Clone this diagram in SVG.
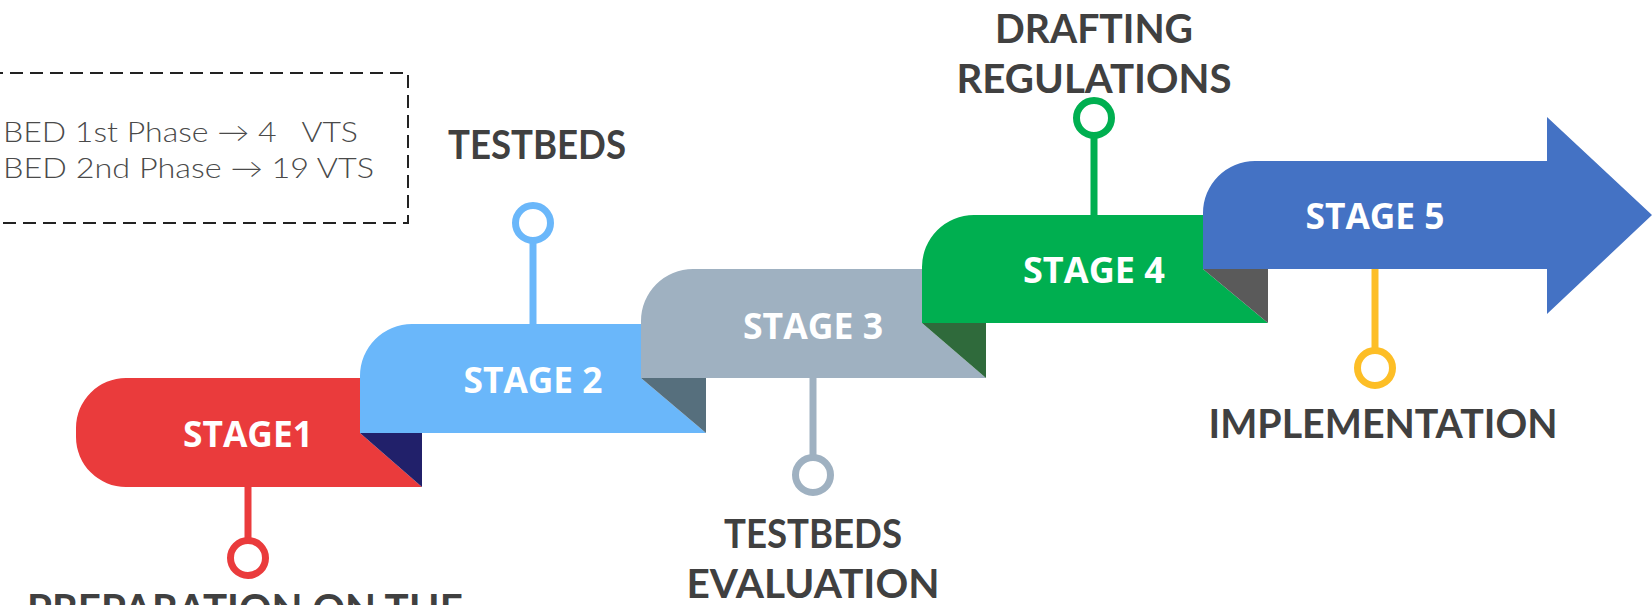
<svg xmlns="http://www.w3.org/2000/svg" width="1652" height="605" viewBox="0 0 1652 605">
  <style>
    .stage { font-family: "Open Sans", "Liberation Sans", sans-serif; font-weight: 700; font-size: 36px; fill: #ffffff; text-anchor: middle; }
    .label { font-family: "Lato", "Open Sans", "Liberation Sans", sans-serif; font-weight: 700; font-size: 41px; fill: #404040; text-anchor: middle; }
    .note { font-family: "Lato", "Liberation Sans", sans-serif; font-weight: 300; font-size: 27px; fill: #4a4a4a; }
    .stem { stroke-width: 7; fill: none; }
    .pin { stroke-width: 7; fill: #ffffff; }
  </style>

  <!-- dashed note box -->
  <g id="note">
    <rect x="-10" y="73" width="418" height="150" fill="none" stroke="#222222" stroke-width="2" stroke-dasharray="13 7"/>
    <text class="note" x="3" y="142" xml:space="preserve" textLength="355" lengthAdjust="spacingAndGlyphs">BED 1st Phase → 4   VTS</text>
    <text class="note" x="3" y="178" xml:space="preserve" textLength="371" lengthAdjust="spacingAndGlyphs">BED 2nd Phase → 19 VTS</text>
  </g>

  <!-- stems and pins -->
  <g id="connectors">
    <line class="stem" x1="248" y1="487" x2="248" y2="541" stroke="#EA3B3C"/>
    <circle class="pin" cx="248" cy="558" r="17.5" stroke="#EA3B3C"/>
    <line class="stem" x1="533" y1="324" x2="533" y2="240" stroke="#6AB7FA"/>
    <circle class="pin" cx="533" cy="223" r="17.5" stroke="#6AB7FA"/>
    <line class="stem" x1="813" y1="378" x2="813" y2="458" stroke="#9FB1C1"/>
    <circle class="pin" cx="813" cy="475" r="17.5" stroke="#9FB1C1"/>
    <line class="stem" x1="1094" y1="215" x2="1094" y2="135" stroke="#00AF50"/>
    <circle class="pin" cx="1094" cy="118" r="17.5" stroke="#00AF50"/>
    <line class="stem" x1="1375" y1="269" x2="1375" y2="351" stroke="#FDBE26"/>
    <circle class="pin" cx="1375" cy="368" r="17.5" stroke="#FDBE26"/>
  </g>

  <!-- stage 1 -->
  <g id="stage1">
    <path d="M126,487 A50,50 0 0 1 76,437 V428 A50,50 0 0 1 126,378 H360 V433 L422,487 Z" fill="#EA3B3C"/>
    <path d="M360,433 H422 V487 Z" fill="#21206A"/>
    <text class="stage" x="248" y="447" textLength="130" lengthAdjust="spacingAndGlyphs">STAGE1</text>
    <text class="label" x="245" y="623" textLength="436" lengthAdjust="spacingAndGlyphs">PREPARATION ON THE</text>
  </g>

  <!-- stage 2 -->
  <g id="stage2">
    <path d="M360,433 V376 A52,52 0 0 1 412,324 H641 V378 L706,433 Z" fill="#6AB7FA"/>
    <path d="M641,378 H706 V433 Z" fill="#566F7D"/>
    <text class="stage" x="533" y="393" textLength="139" lengthAdjust="spacingAndGlyphs">STAGE 2</text>
    <text class="label" x="537" y="159" textLength="178" lengthAdjust="spacingAndGlyphs">TESTBEDS</text>
  </g>

  <!-- stage 3 -->
  <g id="stage3">
    <path d="M641,378 V321 A52,52 0 0 1 693,269 H922 V323 L986,378 Z" fill="#9FB1C1"/>
    <path d="M922,323 H986 V378 Z" fill="#2F6A3B"/>
    <text class="stage" x="813" y="339" textLength="140" lengthAdjust="spacingAndGlyphs">STAGE 3</text>
    <text class="label" x="813" y="548" textLength="178" lengthAdjust="spacingAndGlyphs">TESTBEDS</text>
    <text class="label" x="813" y="598" textLength="253" lengthAdjust="spacingAndGlyphs">EVALUATION</text>
  </g>

  <!-- stage 4 -->
  <g id="stage4">
    <path d="M922,323 V267 A52,52 0 0 1 974,215 H1203 V269 L1268,323 Z" fill="#00AF50"/>
    <path d="M1203,269 H1268 V323 Z" fill="#5A5A5A"/>
    <text class="stage" x="1094" y="283" textLength="142" lengthAdjust="spacingAndGlyphs">STAGE 4</text>
    <text class="label" x="1094" y="43" textLength="198" lengthAdjust="spacingAndGlyphs">DRAFTING</text>
    <text class="label" x="1094" y="93" textLength="275" lengthAdjust="spacingAndGlyphs">REGULATIONS</text>
  </g>

  <!-- stage 5 with arrow head -->
  <g id="stage5">
    <path d="M1203,269 V213 A52,52 0 0 1 1255,161 H1547 V117 L1652,215 L1547,314 V269 Z" fill="#4472C4"/>
    <text class="stage" x="1375" y="229" textLength="139" lengthAdjust="spacingAndGlyphs">STAGE 5</text>
    <text class="label" x="1383" y="438" textLength="349" lengthAdjust="spacingAndGlyphs">IMPLEMENTATION</text>
  </g>
</svg>
